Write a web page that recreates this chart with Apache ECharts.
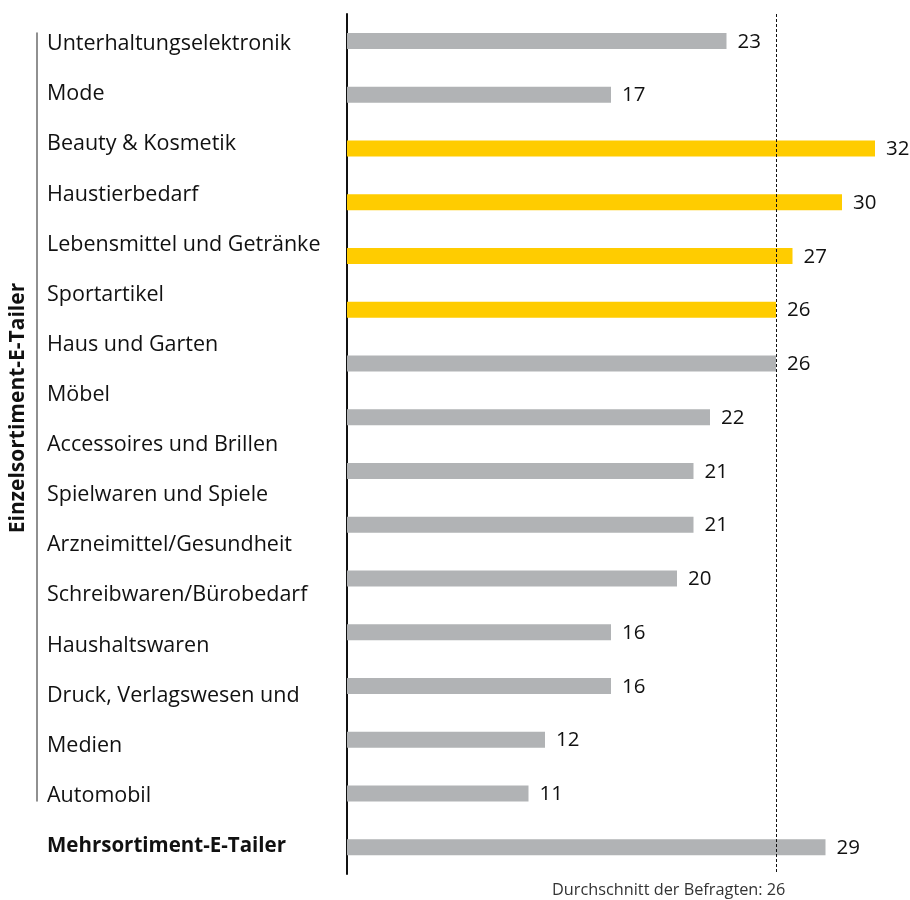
<!DOCTYPE html>
<html>
<head>
<meta charset="utf-8">
<script src="https://cdn.jsdelivr.net/npm/echarts@6/dist/echarts.min.js"></script>
<style>
html,body{margin:0;padding:0;background:#fff;}
#chart{width:910px;height:900px;}
</style>
</head>
<body>
<div id="chart"></div>
<script>
// Bars (one per category, top to bottom)
const barCategories = [
  'Unterhaltungselektronik', 'Mode', 'Beauty & Kosmetik', 'Haustierbedarf',
  'Lebensmittel und Getränke', 'Sportartikel', 'Haus und Garten', 'Möbel',
  'Accessoires und Brillen', 'Spielwaren und Spiele', 'Arzneimittel/Gesundheit',
  'Schreibwaren/Bürobedarf', 'Haushaltswaren', 'Druck, Verlagswesen und Medien',
  'Automobil', 'Mehrsortiment-E-Tailer'
];
// bar lengths as drawn in the reference
const barValues = [23, 16, 32, 30, 27, 26, 26, 22, 21, 21, 20, 16, 16, 12, 11, 29];
// values printed next to the bars
const valueLabels = ['23', '17', '32', '30', '27', '26', '26', '22', '21', '21', '20', '16', '16', '12', '11', '29'];
const highlighted = [false, false, true, true, true, true, false, false, false, false, false, false, false, false, false, false];

// Left text labels (as laid out in the reference, evenly spaced lines)
const labelLines = [
  'Unterhaltungselektronik', 'Mode', 'Beauty & Kosmetik', 'Haustierbedarf',
  'Lebensmittel und Getränke', 'Sportartikel', 'Haus und Garten', 'Möbel',
  'Accessoires und Brillen', 'Spielwaren und Spiele', 'Arzneimittel/Gesundheit',
  'Schreibwaren/Bürobedarf', 'Haushaltswaren', 'Druck, Verlagswesen und',
  'Medien', 'Automobil', 'Mehrsortiment-E-Tailer'
];
const groupLabel = 'Einzelsortiment-E-Tailer';
const averageValue = 26;
const averageText = 'Durchschnitt der Befragten: 26';

const FONT = '"Open Sans", "Noto Sans", sans-serif';
const GRAY = '#b1b3b5';
const YELLOW = '#ffcc00';

const chart = echarts.init(document.getElementById('chart'), null, {renderer: 'canvas'});

const option = {
  backgroundColor: '#ffffff',
  animation: false,
  textStyle: {fontFamily: FONT},
  title: {
    text: averageText,
    left: 552,
    top: 882,
    padding: 0,
    textStyle: {fontFamily: FONT, fontSize: 16.3, fontWeight: 'normal', color: '#333333'}
  },
  graphic: [{
    type: 'text',
    x: 18,
    y: 408,
    rotation: Math.PI / 2,
    style: {
      text: groupLabel,
      fontFamily: FONT,
      fontSize: 21,
      fontWeight: 'bold',
      fill: '#111111',
      align: 'center',
      verticalAlign: 'middle'
    }
  }],
  grid: [
    {left: 347, top: 14, width: 561, height: 860},
    {left: 47, top: 19, width: 280, height: 852},
    {left: 37, top: 33, width: 1, height: 768}
  ],
  xAxis: [
    {gridIndex: 0, type: 'value', min: 0, max: 34, show: false},
    {gridIndex: 1, type: 'value', min: 0, max: 1, show: false},
    {gridIndex: 2, type: 'value', min: 0, max: 1, show: false}
  ],
  yAxis: [
    {
      gridIndex: 0, type: 'category', data: barCategories, inverse: true,
      axisLine: {show: true, lineStyle: {color: '#111111', width: 2}},
      axisTick: {show: false}, axisLabel: {show: false}, splitLine: {show: false}
    },
    {
      gridIndex: 1, type: 'category', data: labelLines, inverse: true,
      axisLine: {show: false}, axisTick: {show: false}, splitLine: {show: false},
      axisLabel: {
        inside: true, margin: 0, align: 'left',
        fontFamily: FONT, fontSize: 21.5, color: '#111111',
        formatter: function (v, i) {
          return i === labelLines.length - 1 ? '{b|' + v + '}' : v;
        },
        rich: {b: {fontFamily: FONT, fontSize: 20.5, fontWeight: 'bold', color: '#111111'}}
      }
    },
    {
      gridIndex: 2, type: 'value', min: 0, max: 1,
      axisLine: {show: true, lineStyle: {color: '#6b6b6b', width: 1.5}},
      axisTick: {show: false}, axisLabel: {show: false}, splitLine: {show: false}
    }
  ],
  series: [{
    type: 'bar',
    xAxisIndex: 0, yAxisIndex: 0,
    barWidth: 16,
    data: barValues.map((v, i) => ({value: v, itemStyle: {color: highlighted[i] ? YELLOW : GRAY}})),
    label: {
      show: true, position: 'right', distance: 11,
      fontFamily: FONT, fontSize: 20.5, color: '#111111', offset: [0, 1]
    ,
      formatter: function (p) { return valueLabels[p.dataIndex]; }
    },
    markLine: {
      silent: true,
      symbol: ['none', 'none'],
      label: {show: false},
      lineStyle: {color: '#111111', width: 1, type: [3, 2]},
      data: [{xAxis: averageValue}]
    }
  }]
};
chart.setOption(option);
</script>
</body>
</html>
